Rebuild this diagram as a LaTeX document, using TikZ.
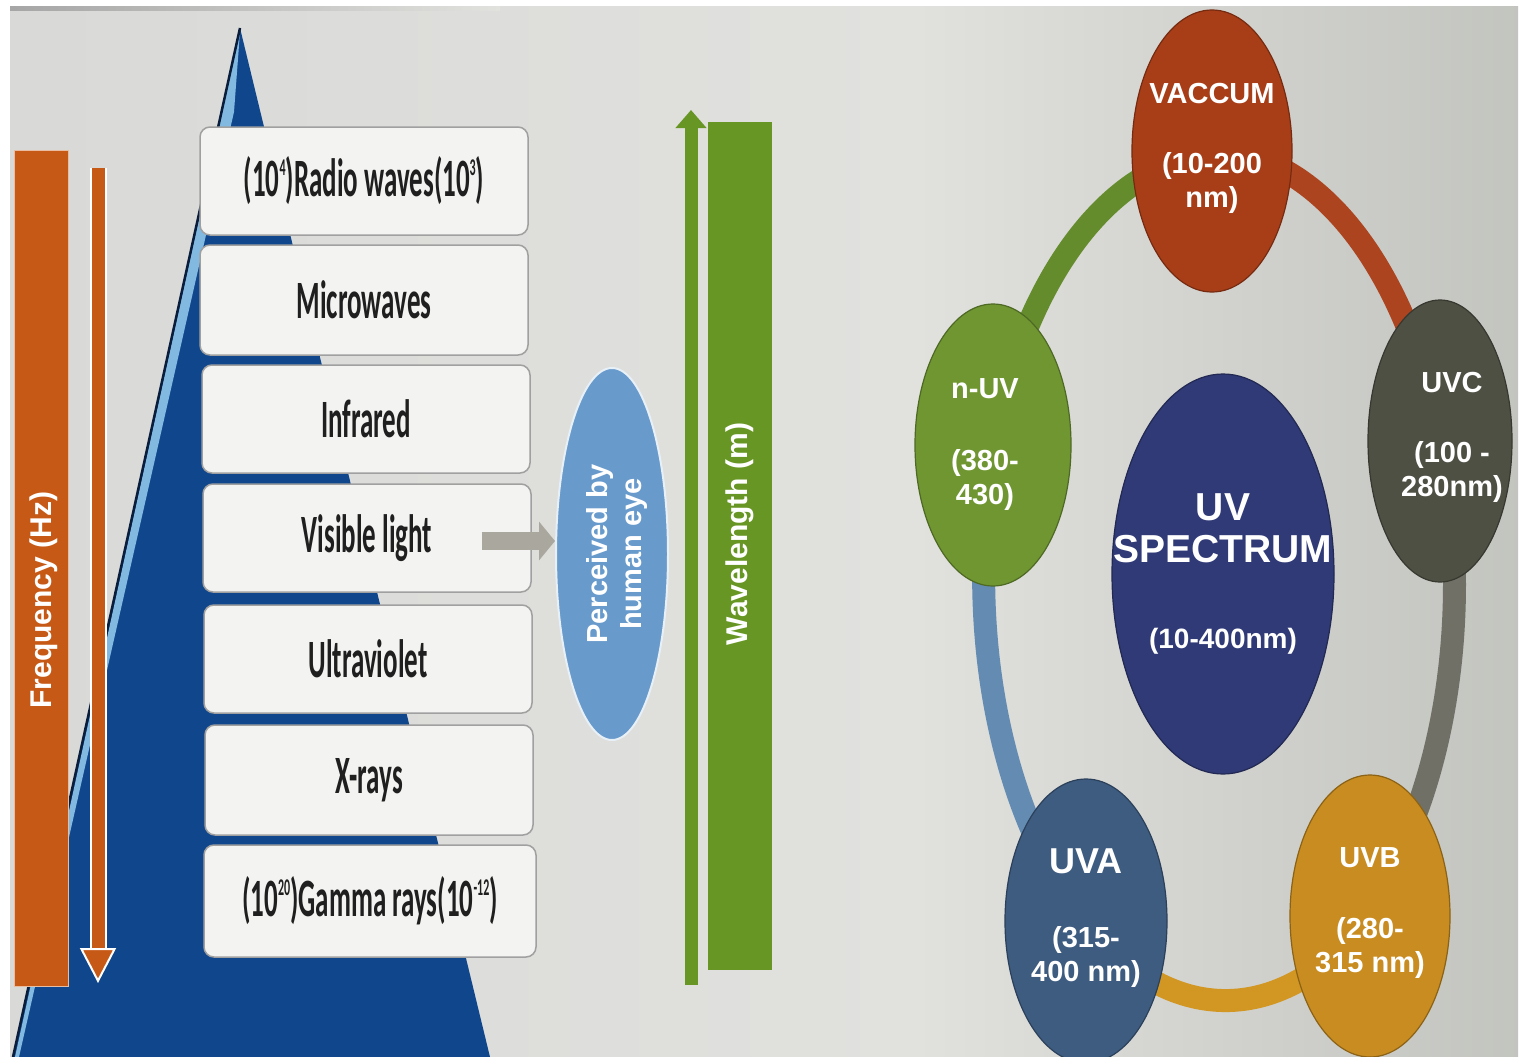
\documentclass[tikz,border=0pt]{standalone}
\usepackage{fontspec}
\setmainfont{Liberation Sans}
\newfontfamily\boxfont[FakeStretch=0.5]{Carlito}
\usetikzlibrary{arrows.meta,shapes.geometric,backgrounds}
\newcommand\mysup[1]{\raisebox{0.40em}{\fontsize{24}{24}\selectfont #1}}
\definecolor{orC}{RGB}{199,89,22}
\definecolor{grC}{RGB}{104,150,36}
\definecolor{perC}{RGB}{104,154,204}
\definecolor{triC}{RGB}{16,70,140}
\definecolor{triL}{RGB}{130,185,225}
\definecolor{triD}{RGB}{10,30,60}
\definecolor{arG}{RGB}{170,168,158}
\definecolor{vacC}{RGB}{168,62,24}
\definecolor{uvcC}{RGB}{78,80,68}
\definecolor{nuvC}{RGB}{112,150,50}
\definecolor{specC}{RGB}{48,58,118}
\definecolor{uvaC}{RGB}{62,92,128}
\definecolor{uvbC}{RGB}{200,140,32}
\definecolor{rgG}{RGB}{100,140,45}
\definecolor{rgR}{RGB}{172,68,32}
\definecolor{rgY}{RGB}{112,112,102}
\definecolor{rgO}{RGB}{210,150,34}
\definecolor{rgB}{RGB}{100,140,178}
\definecolor{boxF}{RGB}{243,243,241}
\definecolor{boxE}{RGB}{160,160,160}
\definecolor{bgL}{RGB}{210,210,210}
\definecolor{bgM}{RGB}{225,225,222}
\definecolor{bgR}{RGB}{190,192,186}
\definecolor{bgRR}{RGB}{145,148,141}
\pgfdeclarehorizontalshading{bgshade}{100bp}{color(0bp)=(bgL); color(55bp)=(bgM); color(78bp)=(bgR); color(100bp)=(bgRR)}
\begin{document}
\begin{tikzpicture}[x=1pt,y=-1pt,
  bx/.style={draw=boxE, fill=boxF, line width=1.5pt, rounded corners=10pt,
    minimum width=328pt, minimum height=108pt, inner sep=0pt, text=black!88,
    font=\boxfont\bfseries\fontsize{54}{60}\selectfont},
  uvell/.style={ellipse, inner sep=0pt, draw=#1!70!black, fill=#1, line width=1.2pt},
  lab/.style={text=white, align=center, inner sep=0pt, font=\bfseries\fontsize{29}{34}\selectfont},
  wtext/.style={text=white, align=center, inner sep=0pt, font=\bfseries\fontsize{30}{34}\selectfont},
  ringseg/.style={line width=23pt, draw=#1}]
\useasboundingbox (0,0) rectangle (1527,1057);

% triangle (pyramid)
\fill[triC] (240,28) -- (13,1057) -- (490,1057) -- cycle;
\fill[triL] (240,32) -- (234,112) -- (19,1057) -- (15,1057) -- cycle;
\draw[triD, line width=2.5pt] (240,28) -- (13,1057);

% frequency bar and arrow
\node[fill=orC, draw=orC!40!white, line width=1pt, minimum width=54pt, minimum height=836pt, inner sep=0pt] (freqbar) at (41,568) {};
\node[wtext, rotate=90] (freq) at (44,600) {Frequency (Hz)};
\coordinate (fa1) at (98,168);
\coordinate (fa2) at (98,983);
\draw[white, line width=17pt, shorten >=32pt] (fa1) -- (fa2);
\draw[orC, line width=13pt, -{Triangle[length=35pt,width=36pt,line width=2pt,fill=orC,color=white]}] (fa1) -- (fa2);

% spectrum boxes
\node[bx] (radio) at (364,181) {(10\mysup{4})Radio waves(10\mysup{3})};
\node[bx, minimum height=110pt] (micro) at (364,300) {Microwaves};
\node[bx] (infra) at (366,419) {Infrared};
\node[bx] (vis) at (367,538) {Visible light};
\node[bx] (ultra) at (368,659) {Ultraviolet};
\node[bx, minimum height=110pt] (xray) at (369,780) {X-rays};
\node[bx, minimum height=112pt, minimum width=332pt] (gamma) at (370,901) {(10\mysup{20})Gamma rays(10\mysup{-12})};

% perceived by human eye
\node[ellipse, fill=perC, draw=white!85!perC, line width=2pt, minimum width=112pt, minimum height=372pt, inner sep=0pt] (perc) at (612,554) {};
\node[wtext, rotate=90, font=\bfseries\fontsize{29}{34}\selectfont] (perctext) at (617,554) {Perceived by\\human eye};
\coordinate (ga) at ([xshift=-50pt,yshift=-3pt]vis.east);
\coordinate (gb) at (ga -| perc.west);
\draw[arG, line width=18pt, -{Triangle[length=16pt,width=38pt]}] (ga) -- (gb);

% wavelength
\coordinate (wa1) at (691,985);
\coordinate (wa2) at (691,110);
\draw[grC, line width=13pt, -{Triangle[length=18pt,width=30pt]}] (wa1) -- (wa2);
\node[fill=grC, minimum width=64pt, minimum height=848pt, inner sep=0pt] (wbar) at (740,546) {};
\node[wtext, rotate=90] (wave) at (740,534) {Wavelength (m)};

% UV ring nodes
\node[uvell=vacC, minimum width=160pt, minimum height=282pt,
  label={[lab,yshift=3pt]center:{VACCUM\\[36pt](10-200\\nm)}}] (vac) at (1212,151) {};
\node[uvell=uvcC, minimum width=144pt, minimum height=282pt,
  label={[lab,xshift=12pt,yshift=4pt]center:{UVC\\[36pt](100 -\\280nm)}}] (uvc) at (1440,441) {};
\node[uvell=nuvC, minimum width=156pt, minimum height=282pt,
  label={[lab,xshift=-8pt]center:{n-UV\\[38pt](380-\\430)}}] (nuv) at (993,445) {};
\node[uvell=specC, minimum width=222pt, minimum height=400pt,
  label={[lab,font=\bfseries\fontsize{39}{42}\selectfont]center:{UV\\SPECTRUM\\[44pt]{\fontsize{28}{34}\selectfont(10-400nm)}}}] (spec) at (1223,574) {};
\node[uvell=uvaC, minimum width=162pt, minimum height=284pt,
  label={[lab,yshift=3pt]center:{{\fontsize{36}{40}\selectfont UVA}\\[40pt](315-\\400 nm)}}] (uva) at (1086,921) {};
\node[uvell=uvbC, minimum width=160pt, minimum height=282pt,
  label={[lab,yshift=3pt]center:{UVB\\[37pt](280-\\315 nm)}}] (uvb) at (1370,916) {};

\begin{pgfonlayer}{background}
\fill[white] (0,0) rectangle (1527,1057);
\shade[shading=bgshade] (10,7) rectangle (1518,1057);
\shade[left color=gray!70, right color=bgM] (10,7) rectangle (500,11);
\draw[ringseg=rgG] (nuv.center) arc[start angle=162, end angle=90, x radius=240pt, y radius=420pt];
\draw[ringseg=rgR] (vac.center) arc[start angle=90, end angle=20, x radius=240pt, y radius=420pt];
\draw[ringseg=rgY] (uvc.center) arc[start angle=20, end angle=-53, x radius=240pt, y radius=420pt];
\draw[ringseg=rgO] (uvb.center) arc[start angle=-53, end angle=-125, x radius=240pt, y radius=420pt];
\draw[ringseg=rgB] (uva.center) arc[start angle=-125, end angle=-198, x radius=240pt, y radius=420pt];
\end{pgfonlayer}
\end{tikzpicture}
\end{document}
